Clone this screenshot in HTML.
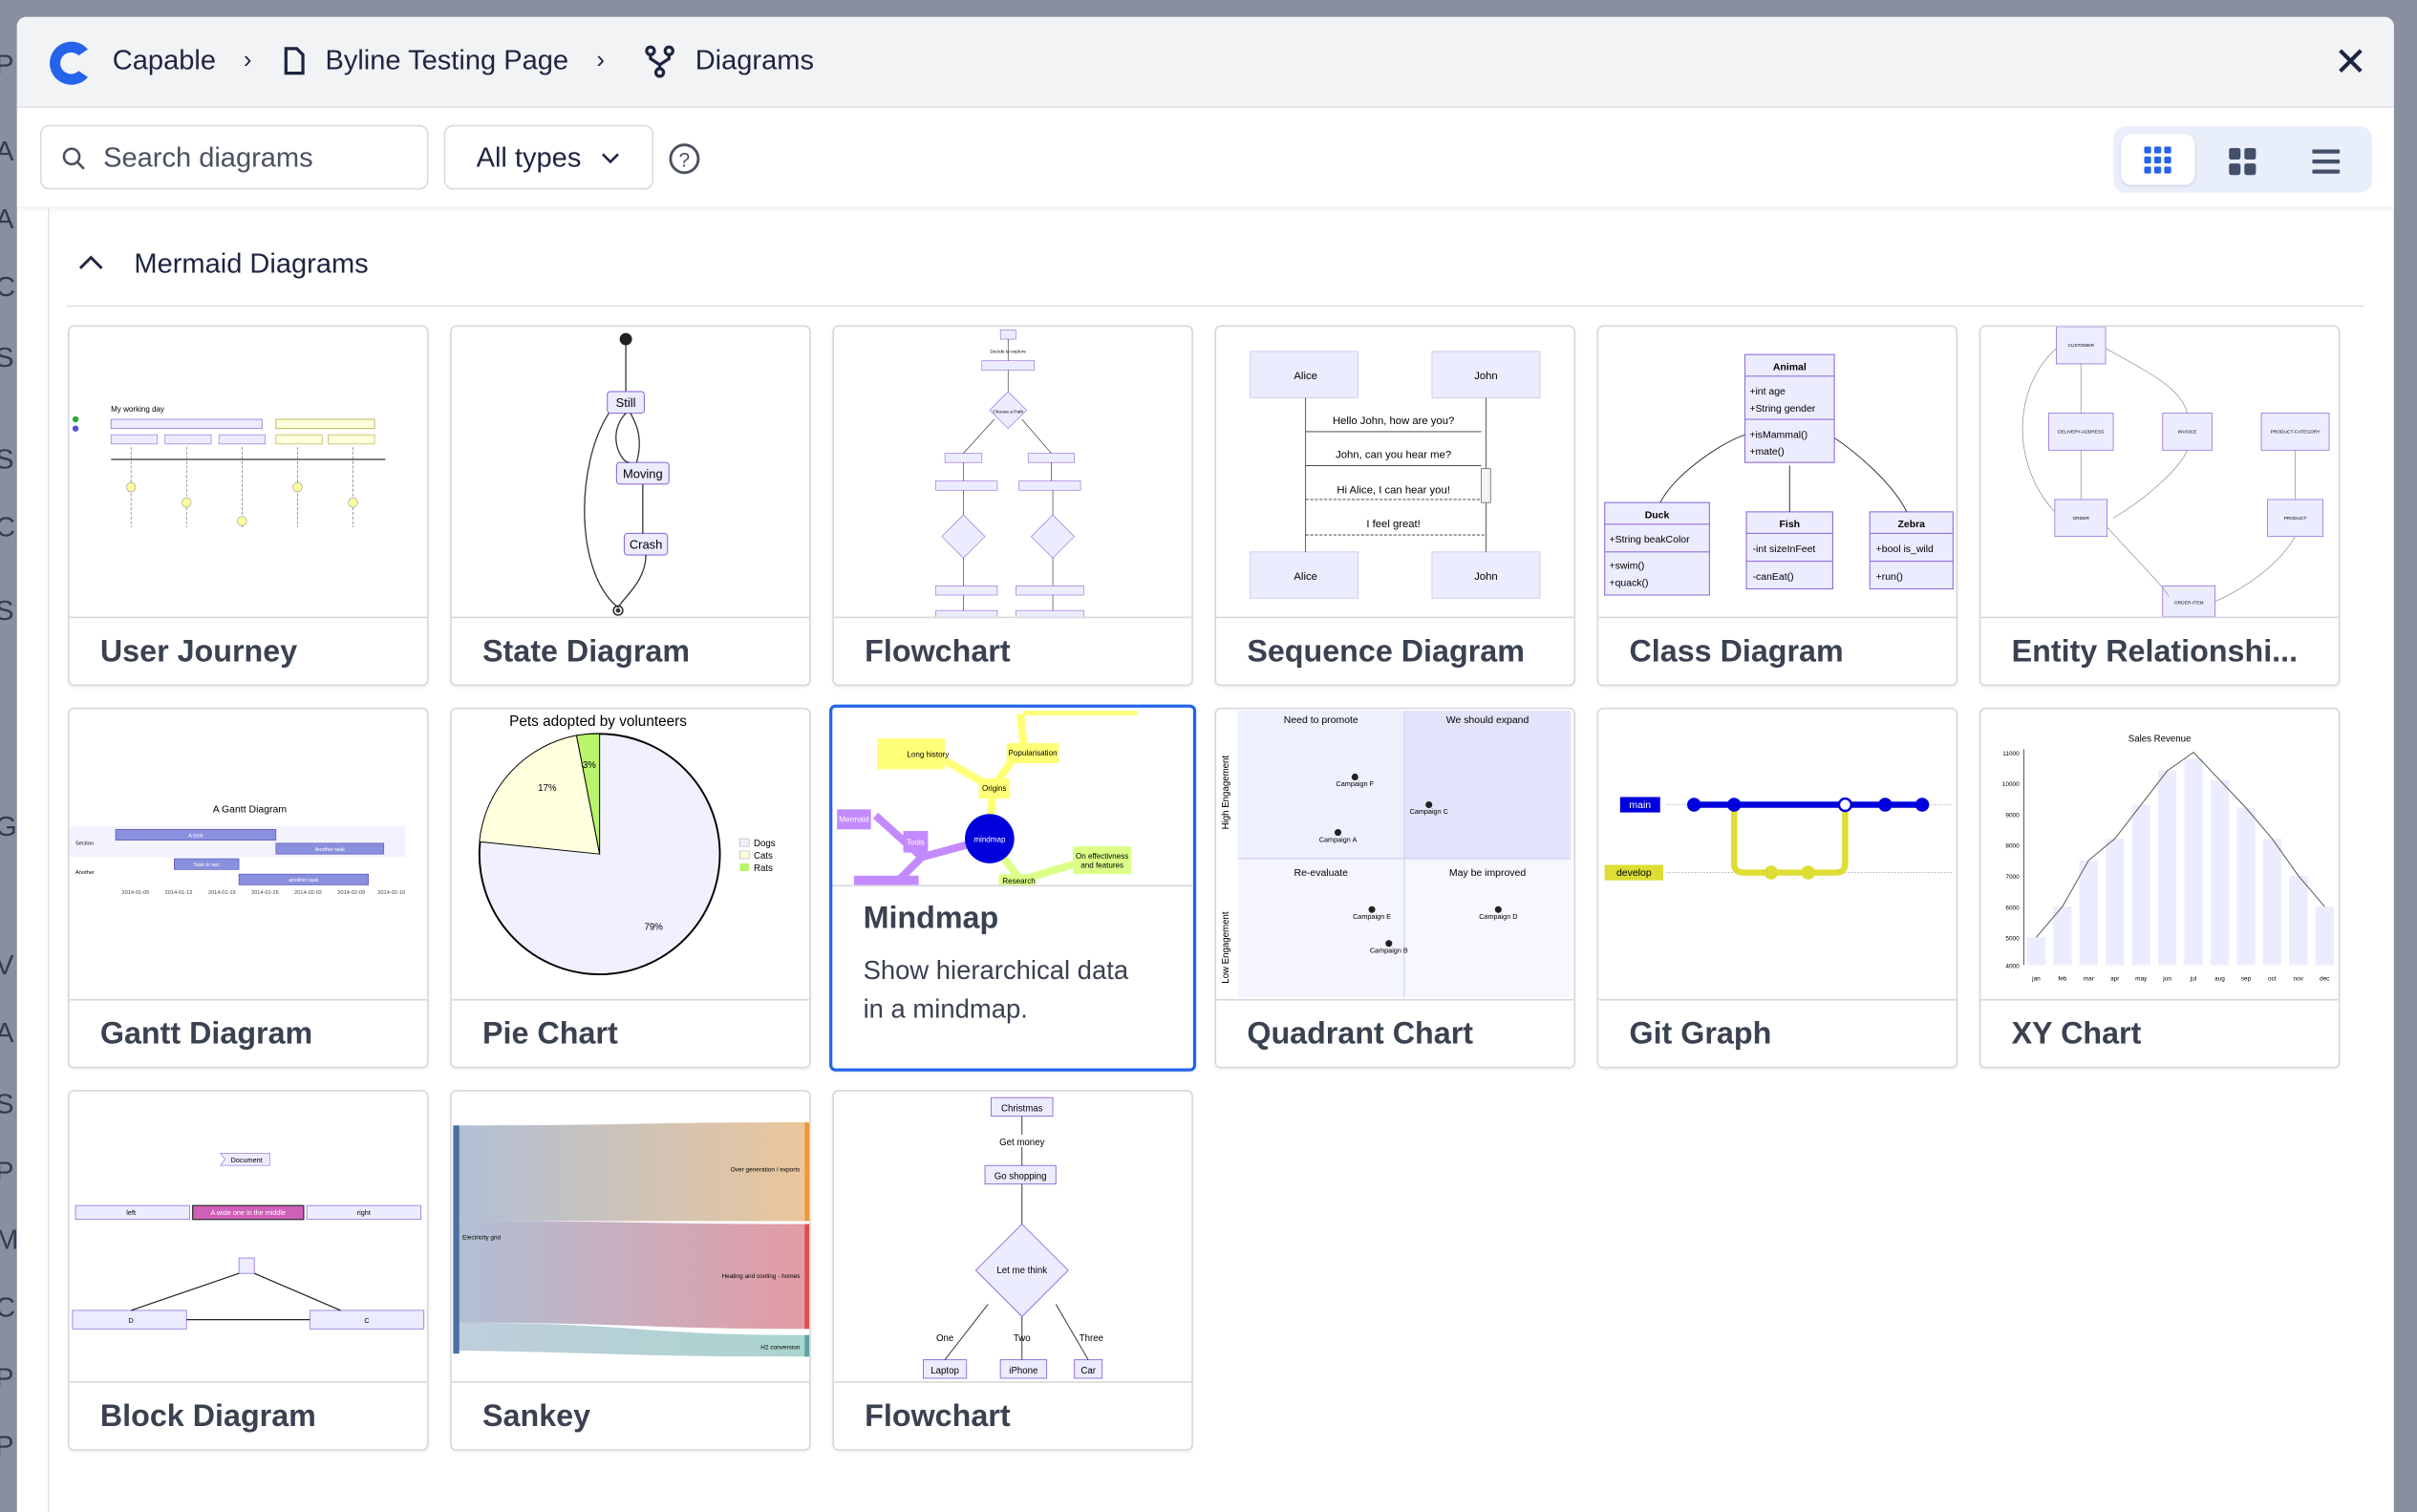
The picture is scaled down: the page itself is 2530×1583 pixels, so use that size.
<!DOCTYPE html>
<html><head><meta charset="utf-8"><style>
html,body{margin:0;padding:0;width:2530px;height:1564px;overflow:hidden;background:#8a8f9f;font-family:"Liberation Sans",sans-serif;}
#root{position:absolute;left:0;top:0;width:1568px;height:969px;transform-origin:0 0;transform:scale(1.61352,1.61404);background:#8a8f9f;}
.modal{position:absolute;left:11px;top:11px;width:1542px;height:970px;background:#fff;border-radius:6px 6px 0 0;overflow:hidden;}
.hdr{position:absolute;left:0;top:0;width:100%;height:58px;background:#f2f3f5;border-bottom:1px solid #e2e3e7;}
.hdr span{position:absolute;top:18px;font-size:18px;color:#1c2540;}
.tb{position:absolute;left:0;top:59px;width:100%;height:64px;background:#fff;box-shadow:0 2px 3px rgba(0,0,0,.06);}
.inp{position:absolute;top:11px;height:42px;border:1px solid #d9dbe0;border-radius:6px;box-sizing:border-box;font-size:18px;color:#4a5160;}
.card{position:absolute;width:234px;height:234px;border:1px solid #d6d8dd;border-radius:4px;box-sizing:border-box;background:#fff;overflow:hidden;box-shadow:0 1px 2px rgba(0,0,0,.06);}
.card svg{position:absolute;left:0;top:0;}
.card .t{position:absolute;left:0;top:188px;width:100%;height:46px;border-top:1px solid #d6d8dd;box-sizing:border-box;}
.card .t span{position:absolute;left:20px;top:11px;font-size:20px;font-weight:bold;color:#3a4150;white-space:nowrap;}
svg text{font-family:"Liberation Sans",sans-serif;}
</style></head><body><div id="root">
<!-- left strip letters -->
<div style="position:absolute;left:0;top:0;width:11px;height:969px;background:#8a8f9f;color:#333c4c;font-size:18px;overflow:hidden">
<div style="position:absolute;top:32px;left:-3px">P</div><div style="position:absolute;top:88px;left:-3px">A</div><div style="position:absolute;top:132px;left:-3px">A</div><div style="position:absolute;top:176px;left:-3px">C</div><div style="position:absolute;top:222px;left:-3px">S</div><div style="position:absolute;top:288px;left:-3px">S</div><div style="position:absolute;top:332px;left:-3px">C</div><div style="position:absolute;top:386px;left:-3px">S</div><div style="position:absolute;top:526px;left:-3px">G</div><div style="position:absolute;top:616px;left:-3px">V</div><div style="position:absolute;top:660px;left:-3px">A</div><div style="position:absolute;top:706px;left:-3px">S</div><div style="position:absolute;top:750px;left:-3px">P</div><div style="position:absolute;top:794px;left:-3px">M</div><div style="position:absolute;top:838px;left:-3px">C</div><div style="position:absolute;top:884px;left:-3px">P</div><div style="position:absolute;top:928px;left:-3px">P</div>
</div>
<div style="position:absolute;left:1546px;top:418px;width:6px;height:126px;background:#b9bdc7;border-radius:3px"></div>
<div class="modal">
 <div class="hdr">
  <svg style="position:absolute;left:18px;top:13px" width="34" height="34" viewBox="0 0 34 34"><path d="M28 8 A14 14 0 1 0 28 26 L22 22 A7 7 0 1 1 22 12 Z" fill="#2563eb"/></svg>
  <span style="left:62px">Capable</span>
  <span style="left:147px;font-size:16px;top:20px">&#x203A;</span>
  <svg style="position:absolute;left:173px;top:19px" width="14" height="19" viewBox="0 0 14 19"><path d="M1.5 1.5h7l4 4v12h-11z" fill="none" stroke="#1c2540" stroke-width="2"/></svg>
  <span style="left:200px">Byline Testing Page</span>
  <span style="left:376px;font-size:16px;top:20px">&#x203A;</span>
  <svg style="position:absolute;left:407px;top:18px" width="20" height="22" viewBox="0 0 20 22"><circle cx="4" cy="4" r="2.5" fill="none" stroke="#1c2540" stroke-width="2"/><circle cx="16" cy="4" r="2.5" fill="none" stroke="#1c2540" stroke-width="2"/><circle cx="10" cy="18" r="2.5" fill="none" stroke="#1c2540" stroke-width="2"/><path d="M4 7v2l6 4 6-4V7M10 13v2" fill="none" stroke="#1c2540" stroke-width="2"/></svg>
  <span style="left:440px">Diagrams</span>
  <span style="left:1503px;top:14px;font-size:26px">&#x2715;</span>
 </div>
 <div class="tb">
  <div class="inp" style="left:15px;width:252px"><svg style="position:absolute;left:13px;top:13px" width="16" height="16" viewBox="0 0 16 16"><circle cx="6.5" cy="6.5" r="5" fill="none" stroke="#4a5160" stroke-width="1.6"/><path d="M10.5 10.5l4 4" stroke="#4a5160" stroke-width="1.6"/></svg><span style="position:absolute;left:40px;top:10px">Search diagrams</span></div>
  <div class="inp" style="left:277px;width:136px;color:#1c2540"><span style="position:absolute;left:20px;top:10px">All types</span><svg style="position:absolute;left:101px;top:17px" width="12" height="8" viewBox="0 0 12 8"><path d="M1 1l5 5 5-5" fill="none" stroke="#1c2540" stroke-width="1.6"/></svg></div>
  <svg style="position:absolute;left:422px;top:22px" width="22" height="22" viewBox="0 0 22 22"><circle cx="11" cy="11" r="9" fill="none" stroke="#4a5160" stroke-width="1.8"/><text x="11" y="16" text-anchor="middle" font-size="13" fill="#4a5160">?</text></svg>
  <div style="position:absolute;left:1360px;top:12px;width:168px;height:43px;background:#e8eefa;border-radius:8px"></div>
  <div style="position:absolute;left:1365px;top:17px;width:48px;height:33px;background:#fff;border-radius:7px;box-shadow:0 1px 2px rgba(0,0,0,.1)"></div>
  <svg style="position:absolute;left:1380px;top:25px" width="18" height="18" viewBox="0 0 18 18" fill="#2563eb"><rect x="0" y="0" width="4.5" height="4.5" rx="1"/><rect x="6.5" y="0" width="4.5" height="4.5" rx="1"/><rect x="13" y="0" width="4.5" height="4.5" rx="1"/><rect x="0" y="6.5" width="4.5" height="4.5" rx="1"/><rect x="6.5" y="6.5" width="4.5" height="4.5" rx="1"/><rect x="13" y="6.5" width="4.5" height="4.5" rx="1"/><rect x="0" y="13" width="4.5" height="4.5" rx="1"/><rect x="6.5" y="13" width="4.5" height="4.5" rx="1"/><rect x="13" y="13" width="4.5" height="4.5" rx="1"/></svg>
  <svg style="position:absolute;left:1435px;top:26px" width="18" height="18" viewBox="0 0 18 18" fill="#44506a"><rect x="0" y="0" width="7.5" height="7.5" rx="1.5"/><rect x="10" y="0" width="7.5" height="7.5" rx="1.5"/><rect x="0" y="10" width="7.5" height="7.5" rx="1.5"/><rect x="10" y="10" width="7.5" height="7.5" rx="1.5"/></svg>
  <svg style="position:absolute;left:1489px;top:27px" width="18" height="16" viewBox="0 0 18 16" fill="#44506a"><rect x="0" y="0" width="18" height="2.6" rx="1"/><rect x="0" y="6.5" width="18" height="2.6" rx="1"/><rect x="0" y="13" width="18" height="2.6" rx="1"/></svg>
 </div>
 <div style="position:absolute;left:20px;top:124px;width:1px;height:846px;background:#e2e3e7"></div>
 <svg style="position:absolute;left:40px;top:154px" width="16" height="10" viewBox="0 0 16 10"><path d="M1 9l7-7 7 7" fill="none" stroke="#1c2540" stroke-width="1.8"/></svg>
 <div style="position:absolute;left:76px;top:150px;font-size:18px;color:#1c2540">Mermaid Diagrams</div>
 <div style="position:absolute;left:32px;top:187px;width:1491px;height:1px;background:#dfe0e4"></div>
</div>

<!-- Row 1 -->
<div class="card" style="left:44px;top:211px"><svg width="234" height="188"><text x="27" y="55" font-size="5">My working day</text><rect x="27" y="60" width="98" height="6" fill="#ececff" stroke="#9370db" stroke-width=".5"/><rect x="134" y="60" width="64" height="6" fill="#ffffde" stroke="#aa3" stroke-width=".5"/><rect x="27" y="70" width="30" height="6" fill="#ececff" stroke="#9370db" stroke-width=".4"/><rect x="62" y="70" width="30" height="6" fill="#ececff" stroke="#9370db" stroke-width=".4"/><rect x="97" y="70" width="30" height="6" fill="#ececff" stroke="#9370db" stroke-width=".4"/><rect x="134" y="70" width="30" height="6" fill="#ffffde" stroke="#aa3" stroke-width=".4"/><rect x="168" y="70" width="30" height="6" fill="#ffffde" stroke="#aa3" stroke-width=".4"/><line x1="27" y1="86" x2="205" y2="86" stroke="#333" stroke-width=".8"/><g stroke="#666" stroke-width=".4" stroke-dasharray="2 1"><line x1="40" y1="78" x2="40" y2="130"/><line x1="76" y1="78" x2="76" y2="130"/><line x1="112" y1="78" x2="112" y2="130"/><line x1="148" y1="78" x2="148" y2="130"/><line x1="184" y1="78" x2="184" y2="130"/></g><g fill="#ffff9e" stroke="#999" stroke-width=".4"><circle cx="40" cy="104" r="3"/><circle cx="76" cy="114" r="3"/><circle cx="112" cy="126" r="3"/><circle cx="148" cy="104" r="3"/><circle cx="184" cy="114" r="3"/></g><circle cx="4" cy="60" r="2" fill="#33aa33"/><circle cx="4" cy="66" r="2" fill="#5555dd"/></svg><div class="t"><span>User Journey</span></div></div>

<div class="card" style="left:292px;top:211px"><svg width="234" height="188"><circle cx="113" cy="8" r="4" fill="#222"/><path d="M113 12v30" stroke="#333" stroke-width=".8"/><rect x="101" y="42" width="24" height="14" rx="2" fill="#ececff" stroke="#9370db" stroke-width=".7"/><text x="113" y="52" font-size="8" text-anchor="middle">Still</text><rect x="107" y="88" width="34" height="14" rx="2" fill="#ececff" stroke="#9370db" stroke-width=".7"/><text x="124" y="98" font-size="8" text-anchor="middle">Moving</text><rect x="112" y="134" width="28" height="14" rx="2" fill="#ececff" stroke="#9370db" stroke-width=".7"/><text x="126" y="144" font-size="8" text-anchor="middle">Crash</text><g fill="none" stroke="#333" stroke-width=".8"><path d="M113 56C100 70 110 88 115 88"/><path d="M120 88C125 70 118 60 116 56"/><path d="M124 102v32"/><path d="M102 56C80 90 80 160 108 182"/><path d="M126 148C126 165 112 175 108 182"/></g><circle cx="108" cy="184" r="3" fill="none" stroke="#333"/><circle cx="108" cy="184" r="1.5" fill="#333"/></svg><div class="t"><span>State Diagram</span></div></div>

<div class="card" style="left:540px;top:211px"><svg width="234" height="188" font-size="3"><g fill="#ececff" stroke="#9370db" stroke-width=".4"><rect x="108" y="2" width="10" height="6"/><rect x="96" y="22" width="34" height="6"/><path d="M113 42l12 12-12 12-12-12z"/><rect x="72" y="82" width="24" height="6"/><rect x="126" y="82" width="30" height="6"/><rect x="66" y="100" width="40" height="6"/><rect x="120" y="100" width="40" height="6"/><path d="M84 122l14 14-14 14-14-14z"/><path d="M142 122l14 14-14 14-14-14z"/><rect x="66" y="168" width="40" height="6"/><rect x="118" y="168" width="44" height="6"/><rect x="66" y="184" width="40" height="6"/><rect x="118" y="184" width="44" height="6"/></g><g stroke="#333" stroke-width=".4" fill="none"><path d="M113 8v14M113 28v14M104 60L84 82M122 60L141 82M84 88v12M141 88v12M84 106v16M142 106v16M84 150v18M142 150v18M84 174v10M142 174v10"/></g><text x="113" y="17" text-anchor="middle">Decide to explore</text><text x="113" y="56" text-anchor="middle">Choose a Path</text></svg><div class="t"><span>Flowchart</span></div></div>

<div class="card" style="left:788px;top:211px"><svg width="234" height="188" font-size="7"><g fill="#ececff" stroke="#ccccee" stroke-width=".6"><rect x="22" y="16" width="70" height="30"/><rect x="140" y="16" width="70" height="30"/><rect x="22" y="146" width="70" height="30"/><rect x="140" y="146" width="70" height="30"/></g><text x="58" y="34" text-anchor="middle">Alice</text><text x="175" y="34" text-anchor="middle">John</text><text x="58" y="164" text-anchor="middle">Alice</text><text x="175" y="164" text-anchor="middle">John</text><g stroke="#333" stroke-width=".5"><line x1="58" y1="46" x2="58" y2="146"/><line x1="175" y1="46" x2="175" y2="146"/><line x1="58" y1="68" x2="172" y2="68"/><line x1="58" y1="90" x2="172" y2="90"/><line x1="58" y1="112" x2="172" y2="112" stroke-dasharray="2 1"/><line x1="58" y1="135" x2="175" y2="135" stroke-dasharray="2 1"/></g><rect x="172" y="92" width="6" height="22" fill="#f4f4f4" stroke="#666" stroke-width=".5"/><text x="115" y="63" text-anchor="middle">Hello John, how are you?</text><text x="115" y="85" text-anchor="middle">John, can you hear me?</text><text x="115" y="108" text-anchor="middle">Hi Alice, I can hear you!</text><text x="115" y="130" text-anchor="middle">I feel great!</text></svg><div class="t"><span>Sequence Diagram</span></div></div>

<div class="card" style="left:1036px;top:211px"><svg width="234" height="188" font-size="6.5"><g fill="#ececff" stroke="#9370db" stroke-width=".7"><rect x="95" y="18" width="58" height="70"/><rect x="4" y="114" width="68" height="60"/><rect x="96" y="120" width="56" height="50"/><rect x="176" y="120" width="54" height="50"/></g><g stroke="#9370db" stroke-width=".7"><line x1="95" y1="32" x2="153" y2="32"/><line x1="95" y1="60" x2="153" y2="60"/><line x1="4" y1="128" x2="72" y2="128"/><line x1="4" y1="146" x2="72" y2="146"/><line x1="96" y1="134" x2="152" y2="134"/><line x1="96" y1="152" x2="152" y2="152"/><line x1="176" y1="134" x2="230" y2="134"/><line x1="176" y1="152" x2="230" y2="152"/></g><g stroke="#333" fill="none" stroke-width=".6"><path d="M40 114C50 95 80 75 95 70"/><path d="M124 120V90"/><path d="M200 120C190 100 165 80 153 72"/></g><g font-weight="bold" text-anchor="middle"><text x="124" y="28">Animal</text><text x="38" y="124">Duck</text><text x="124" y="130">Fish</text><text x="203" y="130">Zebra</text></g><text x="98" y="44">+int age</text><text x="98" y="55">+String gender</text><text x="98" y="72">+isMammal()</text><text x="98" y="83">+mate()</text><text x="7" y="140">+String beakColor</text><text x="7" y="157">+swim()</text><text x="7" y="168">+quack()</text><text x="100" y="146">-int sizeInFeet</text><text x="100" y="164">-canEat()</text><text x="180" y="146">+bool is_wild</text><text x="180" y="164">+run()</text></svg><div class="t"><span>Class Diagram</span></div></div>

<div class="card" style="left:1284px;top:211px"><svg width="234" height="188" font-size="3"><g fill="#ececff" stroke="#9370db" stroke-width=".5"><rect x="49" y="0" width="32" height="24"/><rect x="44" y="56" width="42" height="24"/><rect x="118" y="56" width="32" height="24"/><rect x="182" y="56" width="44" height="24"/><rect x="48" y="112" width="34" height="24"/><rect x="186" y="112" width="36" height="24"/><rect x="118" y="168" width="34" height="20"/></g><g stroke="#999" stroke-width=".5" fill="none"><path d="M49 14C20 40 20 90 48 120"/><path d="M65 24v32M65 80v32M81 14C110 30 130 40 134 56M86 124C110 110 130 90 134 80M204 80v32M82 130C100 150 120 170 122 175M204 136C190 160 160 175 152 178"/></g><text x="65" y="13" text-anchor="middle">CUSTOMER</text><text x="65" y="69" text-anchor="middle">DELIVERY-ADDRESS</text><text x="134" y="69" text-anchor="middle">INVOICE</text><text x="204" y="69" text-anchor="middle">PRODUCT-CATEGORY</text><text x="65" y="125" text-anchor="middle">ORDER</text><text x="204" y="125" text-anchor="middle">PRODUCT</text><text x="135" y="180" text-anchor="middle">ORDER-ITEM</text></svg><div class="t"><span>Entity Relationshi...</span></div></div>

<!-- Row 2 -->
<div class="card" style="left:44px;top:459px"><svg width="234" height="188" font-size="3.5"><text x="117" y="67" font-size="6.5" text-anchor="middle">A Gantt Diagram</text><rect x="0" y="76" width="218" height="20" fill="#eeeeff" opacity=".7"/><g fill="#8a90dd" stroke="#534fbc" stroke-width=".4"><rect x="30" y="78" width="104" height="7"/><rect x="134" y="87" width="70" height="7"/><rect x="68" y="97" width="42" height="7"/><rect x="110" y="107" width="84" height="7"/></g><g fill="#fff" text-anchor="middle"><text x="82" y="83">A task</text><text x="169" y="92">Another task</text><text x="89" y="102">Task in sec</text><text x="152" y="112">another task</text></g><text x="4" y="88">Section</text><text x="4" y="107">Another</text><g fill="#444"><text x="34" y="120">2014-01-05</text><text x="62" y="120">2014-01-12</text><text x="90" y="120">2014-01-19</text><text x="118" y="120">2014-01-26</text><text x="146" y="120">2014-02-02</text><text x="174" y="120">2014-02-09</text><text x="200" y="120">2014-02-16</text></g></svg><div class="t"><span>Gantt Diagram</span></div></div>

<div class="card" style="left:292px;top:459px"><svg width="234" height="188"><text x="95" y="11" font-size="9.5" text-anchor="middle">Pets adopted by volunteers</text><circle cx="96" cy="94" r="78" fill="#f0f0ff" stroke="#000" stroke-width="1.2"/><path d="M96 94L18 86A78 78 0 0 1 81 17Z" fill="#ffffde" stroke="#000" stroke-width=".6"/><path d="M96 94L81 17A78 78 0 0 1 96 16Z" fill="#b9f56a" stroke="#000" stroke-width=".6"/><text x="56" y="53" font-size="6">17%</text><text x="85" y="38" font-size="6">3%</text><text x="125" y="143" font-size="6">79%</text><rect x="187" y="84" width="6" height="5" fill="#f0f0ff" stroke="#999" stroke-width=".3"/><rect x="187" y="92" width="6" height="5" fill="#ffffde" stroke="#999" stroke-width=".3"/><rect x="187" y="100" width="6" height="5" fill="#b9f56a"/><text x="196" y="89" font-size="6">Dogs</text><text x="196" y="97" font-size="6">Cats</text><text x="196" y="105" font-size="6">Rats</text></svg><div class="t"><span>Pie Chart</span></div></div>

<div class="card" style="left:538px;top:457px;width:238px;height:238px;border:2px solid #2563eb;">
<svg width="234" height="115" font-size="5"><rect x="124" y="2" width="74" height="3" fill="#ffff78"/><g stroke-width="5" fill="none"><path d="M122 4L124 24L104 52L102 85" stroke="#ffff78"/><path d="M62 28L104 52" stroke="#ffff78"/><path d="M102 85L58 97L28 70M58 97L40 115" stroke="#c38aff"/><path d="M102 85L122 112L172 97" stroke="#dcff88"/></g><rect x="29" y="20" width="44" height="20" fill="#ffff78"/><text x="62" y="32" text-anchor="middle">Long history</text><rect x="113" y="23" width="34" height="13" fill="#ffff78"/><text x="130" y="31" text-anchor="middle">Popularisation</text><rect x="95" y="46" width="20" height="13" fill="#ffff78"/><text x="105" y="54" text-anchor="middle">Origins</text><rect x="3" y="66" width="22" height="13" fill="#c38aff"/><text x="14" y="74" text-anchor="middle" fill="#fff">Mermaid</text><rect x="46" y="80" width="16" height="14" fill="#c38aff"/><text x="54" y="89" text-anchor="middle" fill="#fff">Tools</text><circle cx="102" cy="85" r="16" fill="#0000dd"/><text x="102" y="87" text-anchor="middle" fill="#fff">mindmap</text><rect x="156" y="90" width="38" height="18" fill="#dcff88"/><text x="175" y="98" text-anchor="middle">On effectivness</text><text x="175" y="104" text-anchor="middle">and features</text><rect x="108" y="108" width="24" height="8" fill="#dcff88"/><text x="121" y="114" text-anchor="middle">Research</text><rect x="14" y="109" width="42" height="6" fill="#c38aff"/></svg>
<div style="position:absolute;left:0;top:115px;width:100%;height:125px;border-top:1px solid #d6d8dd;"><div style="position:absolute;left:20px;top:10px;font-size:20px;font-weight:bold;color:#3a4150">Mindmap</div><div style="position:absolute;left:20px;top:42px;font-size:17px;line-height:25px;color:#3a4150">Show hierarchical data<br>in a mindmap.</div></div></div>

<div class="card" style="left:788px;top:459px"><svg width="234" height="188" font-size="6"><rect x="14" y="1" width="108" height="96" fill="#eef0fd"/><rect x="122" y="1" width="108" height="96" fill="#e2e4fb"/><rect x="14" y="97" width="108" height="90" fill="#f4f5fe"/><rect x="122" y="97" width="108" height="90" fill="#f6f7ff"/><g stroke="#c8cdf0" stroke-width=".6"><line x1="122" y1="1" x2="122" y2="187"/><line x1="14" y1="97" x2="230" y2="97"/></g><g text-anchor="middle" font-size="6.5"><text x="68" y="9">Need to promote</text><text x="176" y="9">We should expand</text><text x="68" y="108">Re-evaluate</text><text x="176" y="108">May be improved</text></g><text transform="translate(8 78) rotate(-90)" font-size="6">High Engagement</text><text transform="translate(8 178) rotate(-90)" font-size="6">Low Engagement</text><g fill="#222"><circle cx="90" cy="44" r="2.2"/><circle cx="138" cy="62" r="2.2"/><circle cx="79" cy="80" r="2.2"/><circle cx="101" cy="130" r="2.2"/><circle cx="183" cy="130" r="2.2"/><circle cx="112" cy="152" r="2.2"/></g><g font-size="4.5" text-anchor="middle"><text x="90" y="50">Campaign F</text><text x="138" y="68">Campaign C</text><text x="79" y="86">Campaign A</text><text x="101" y="136">Campaign E</text><text x="183" y="136">Campaign D</text><text x="112" y="158">Campaign B</text></g></svg><div class="t"><span>Quadrant Chart</span></div></div>

<div class="card" style="left:1036px;top:459px"><svg width="234" height="188" font-size="5"><rect x="14" y="57" width="26" height="10" fill="#0000dd"/><text x="27" y="64" fill="#fff" text-anchor="middle" font-size="6.5">main</text><rect x="4" y="101" width="38" height="10" fill="#dddd33"/><text x="23" y="108" text-anchor="middle" font-size="6.5">develop</text><line x1="44" y1="62" x2="230" y2="62" stroke="#aaa" stroke-dasharray="1 1" stroke-width=".5"/><line x1="44" y1="106" x2="230" y2="106" stroke="#aaa" stroke-dasharray="1 1" stroke-width=".5"/><path d="M88 62V100Q88 106 94 106H154Q160 106 160 100V62" fill="none" stroke="#dddd33" stroke-width="4"/><line x1="62" y1="62" x2="210" y2="62" stroke="#0000dd" stroke-width="4"/><g fill="#0000dd"><circle cx="62" cy="62" r="4.5"/><circle cx="88" cy="62" r="4.5"/><circle cx="186" cy="62" r="4.5"/><circle cx="210" cy="62" r="4.5"/></g><circle cx="160" cy="62" r="4" fill="#fff" stroke="#0000dd" stroke-width="1.5"/><g fill="#dddd33"><circle cx="112" cy="106" r="4.5"/><circle cx="136" cy="106" r="4.5"/></g></svg><div class="t"><span>Git Graph</span></div></div>

<div class="card" style="left:1284px;top:459px"><svg width="234" height="188" font-size="4"><text x="116" y="21" font-size="6" text-anchor="middle">Sales Revenue</text><line x1="28" y1="26" x2="28" y2="166" stroke="#333" stroke-width=".5"/><g text-anchor="end"><text x="25" y="30">11000</text><text x="25" y="50">10000</text><text x="25" y="70">9000</text><text x="25" y="90">8000</text><text x="25" y="110">7000</text><text x="25" y="130">6000</text><text x="25" y="150">5000</text><text x="25" y="168">4000</text></g><g fill="#ececff"><rect x="30" y="148" width="12" height="18"/><rect x="47" y="128" width="12" height="38"/><rect x="64" y="98" width="12" height="68"/><rect x="81" y="84" width="12" height="82"/><rect x="98" y="62" width="12" height="104"/><rect x="115" y="40" width="12" height="126"/><rect x="132" y="32" width="12" height="134"/><rect x="149" y="46" width="12" height="120"/><rect x="166" y="64" width="12" height="102"/><rect x="183" y="84" width="12" height="82"/><rect x="200" y="108" width="12" height="58"/><rect x="217" y="128" width="12" height="38"/></g><polyline points="36,148 53,128 70,98 87,84 104,62 121,40 138,28 155,46 172,64 189,84 206,108 223,128" fill="none" stroke="#555" stroke-width=".6"/><g text-anchor="middle"><text x="36" y="176">jan</text><text x="53" y="176">feb</text><text x="70" y="176">mar</text><text x="87" y="176">apr</text><text x="104" y="176">may</text><text x="121" y="176">jun</text><text x="138" y="176">jul</text><text x="155" y="176">aug</text><text x="172" y="176">sep</text><text x="189" y="176">oct</text><text x="206" y="176">nov</text><text x="223" y="176">dec</text></g></svg><div class="t"><span>XY Chart</span></div></div>

<!-- Row 3 -->
<div class="card" style="left:44px;top:707px"><svg width="234" height="188" font-size="4.5"><path d="M98 40h32v8h-32l3-4z" fill="#ececff" stroke="#9370db" stroke-width=".4"/><text x="115" y="46" text-anchor="middle">Document</text><g fill="#ececff" stroke="#9370db" stroke-width=".5"><rect x="4" y="74" width="74" height="9"/><rect x="154" y="74" width="74" height="9"/><rect x="2" y="142" width="74" height="12"/><rect x="156" y="142" width="74" height="12"/><rect x="110" y="108" width="10" height="10"/></g><rect x="80" y="74" width="72" height="9" fill="#d05fb8" stroke="#333" stroke-width=".8"/><text x="40" y="80" text-anchor="middle">left</text><text x="116" y="80" text-anchor="middle" fill="#fff">A wide one in the middle</text><text x="191" y="80" text-anchor="middle">right</text><text x="40" y="150" text-anchor="middle">D</text><text x="193" y="150" text-anchor="middle">C</text><g stroke="#222" stroke-width=".8" fill="none"><path d="M110 118L40 142M120 118L176 142M76 148H156"/></g></svg><div class="t"><span>Block Diagram</span></div></div>

<div class="card" style="left:292px;top:707px"><svg width="234" height="188" font-size="4"><defs><linearGradient id="g1" x1="0" x2="1"><stop offset="0" stop-color="#a8b8d0"/><stop offset="1" stop-color="#e8c090"/></linearGradient><linearGradient id="g2" x1="0" x2="1"><stop offset="0" stop-color="#a8b8d0"/><stop offset="1" stop-color="#e0909a"/></linearGradient><linearGradient id="g3" x1="0" x2="1"><stop offset="0" stop-color="#b8c8d8"/><stop offset="1" stop-color="#a0d0c8"/></linearGradient></defs><path d="M5 22C120 22 120 20 230 20V84C120 84 120 84 5 84Z" fill="url(#g1)" opacity=".9"/><path d="M5 84C120 84 120 86 230 86V154C120 154 120 150 5 150Z" fill="url(#g2)" opacity=".9"/><path d="M5 150C120 150 120 158 230 158V172C120 172 120 170 5 168Z" fill="url(#g3)" opacity=".9"/><rect x="1" y="22" width="4" height="148" fill="#4a6fa0"/><rect x="229" y="20" width="4" height="64" fill="#e89a40"/><rect x="229" y="86" width="4" height="68" fill="#d85050"/><rect x="229" y="158" width="4" height="14" fill="#60a0a0"/><text x="7" y="96">Electricity grid</text><text x="226" y="52" text-anchor="end">Over generation / exports</text><text x="226" y="121" text-anchor="end">Heating and cooling - homes</text><text x="226" y="167" text-anchor="end">H2 conversion</text></svg><div class="t"><span>Sankey</span></div></div>

<div class="card" style="left:540px;top:707px"><svg width="234" height="188" font-size="6"><g fill="#ececff" stroke="#9370db" stroke-width=".6"><rect x="102" y="4" width="40" height="12"/><rect x="98" y="48" width="46" height="12"/><path d="M122 86L152 116L122 146L92 116Z"/><rect x="58" y="174" width="28" height="12"/><rect x="108" y="174" width="30" height="12"/><rect x="156" y="174" width="18" height="12"/></g><g stroke="#333" stroke-width=".6" fill="none"><path d="M122 16v32M122 60v26M100 138L72 174M122 146v28M144 138L165 174"/></g><g text-anchor="middle"><text x="122" y="13">Christmas</text><rect x="103" y="28" width="38" height="8" fill="#fff"/><text x="122" y="35">Get money</text><text x="121" y="57">Go shopping</text><text x="122" y="118">Let me think</text><text x="72" y="162">One</text><text x="122" y="162">Two</text><text x="167" y="162">Three</text><text x="72" y="183">Laptop</text><text x="123" y="183">iPhone</text><text x="165" y="183">Car</text></g></svg><div class="t"><span>Flowchart</span></div></div>

</div></body></html>
